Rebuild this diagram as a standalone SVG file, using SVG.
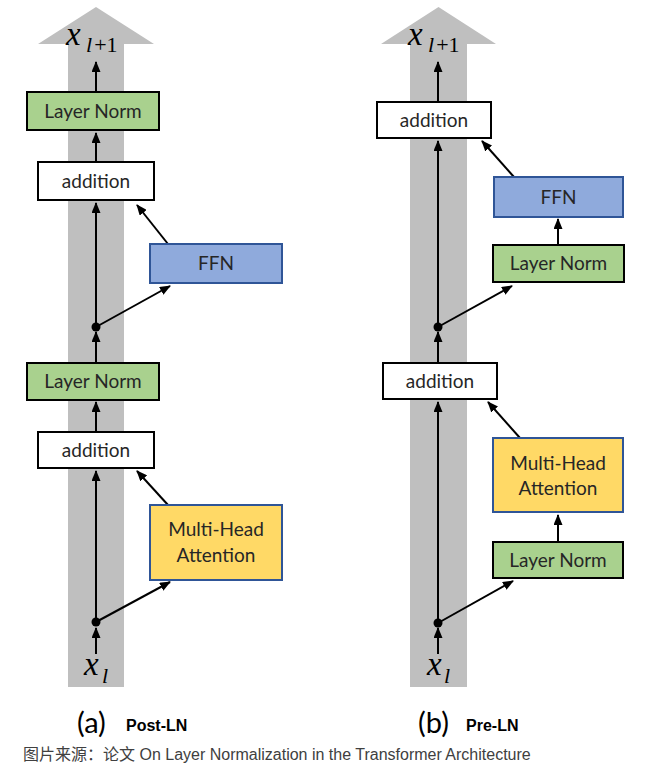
<svg xmlns="http://www.w3.org/2000/svg" width="646" height="771" viewBox="0 0 646 771">
<defs>
<marker id="ah" markerUnits="userSpaceOnUse" markerWidth="11" markerHeight="9" refX="10" refY="4.5" orient="auto">
<path d="M0,0 L11,4.5 L0,9 z" fill="#000"/>
</marker>
<style>
.col{fill:#BFBFBF}
.box{stroke-width:2}
.ln{fill:#A9D18E;stroke:#000}
.add{fill:#FFFFFF;stroke:#000}
.ffn{fill:#8FAADC;stroke:#2F5597}
.mha{fill:#FFD966;stroke:#2F5597}
.t{font-family:Lato,"Open Sans",sans-serif;font-size:19px;fill:#262626;text-anchor:middle}
.c{stroke:#000;stroke-width:2;fill:none;marker-end:url(#ah)}
.dot{fill:#000}
.mx{font-family:"Liberation Serif",serif;font-style:italic;font-size:33px;fill:#000}
.ml{font-family:"Liberation Serif",serif;font-style:italic;font-size:22px;fill:#000}
.ms{font-family:"Liberation Serif",serif;font-size:22px;fill:#000}
.cap{font-family:Lato,"Open Sans",sans-serif;font-size:29px;fill:#000}
.capb{font-family:"Liberation Sans",Arial,sans-serif;font-size:16px;font-weight:bold;fill:#000}
.src{font-family:"Liberation Sans",Arial,"Noto Sans CJK SC",sans-serif;font-size:16px;fill:#404040}
</style>
</defs>
<rect width="646" height="771" fill="#fff"/>
<g id="backbone-a">
<polygon class="col" points="38,44 96,7 154,44 124,44 124,687 68,687 68,44"/>
</g>
<g id="backbone-b">
<polygon class="col" points="381,44 438.5,7 496,44 467,44 467,687 410,687 410,44"/>
</g>

<g id="connectors">
<line class="c" x1="96" y1="654" x2="96" y2="628"/>
<line class="c" x1="96" y1="622" x2="96" y2="471"/>
<line class="c" x1="96" y1="622" x2="170" y2="582"/>
<line class="c" x1="168" y1="505" x2="137" y2="471"/>
<line class="c" x1="96" y1="432" x2="96" y2="402"/>
<line class="c" x1="96" y1="363" x2="96" y2="332"/>
<line class="c" x1="96" y1="327" x2="96" y2="203"/>
<line class="c" x1="96" y1="327" x2="170" y2="286"/>
<line class="c" x1="168" y1="244" x2="137" y2="205"/>
<line class="c" x1="96" y1="162" x2="96" y2="133"/>
<line class="c" x1="96" y1="92" x2="96" y2="62"/>
<line class="c" x1="438" y1="654" x2="438" y2="628"/>
<line class="c" x1="438" y1="623" x2="438" y2="402"/>
<line class="c" x1="438" y1="623" x2="513" y2="581"/>
<line class="c" x1="558" y1="542" x2="558" y2="515"/>
<line class="c" x1="520" y1="438" x2="488" y2="402"/>
<line class="c" x1="438" y1="363" x2="438" y2="332"/>
<line class="c" x1="438" y1="327" x2="438" y2="141"/>
<line class="c" x1="438" y1="327" x2="512" y2="286"/>
<line class="c" x1="558" y1="245" x2="558" y2="219"/>
<line class="c" x1="514" y1="177" x2="482" y2="141"/>
<line class="c" x1="438" y1="102" x2="438" y2="62"/>
<circle class="dot" cx="96" cy="622" r="4.5"/>
<circle class="dot" cx="96" cy="327" r="4.5"/>
<circle class="dot" cx="438" cy="623" r="4.5"/>
<circle class="dot" cx="438" cy="327" r="4.5"/>
</g>

<g id="a-ln-top"><rect class="box ln" x="27" y="92" width="132" height="38"/><text class="t" x="93" y="118">Layer Norm</text></g>
<g id="a-add-top"><rect class="box add" x="38" y="162" width="116" height="38"/><text class="t" x="96" y="188">addition</text></g>
<g id="a-ffn"><rect class="box ffn" x="150" y="244" width="132" height="39"/><text class="t" x="216" y="270">FFN</text></g>
<g id="a-ln-bot"><rect class="box ln" x="27" y="363" width="132" height="37"/><text class="t" x="93" y="388">Layer Norm</text></g>
<g id="a-add-bot"><rect class="box add" x="38" y="432" width="116" height="36"/><text class="t" x="96" y="457">addition</text></g>
<g id="a-mha"><rect class="box mha" x="150" y="505" width="132" height="75"/><text class="t" x="216" y="536">Multi-Head</text><text class="t" x="216" y="562">Attention</text></g>

<g id="b-add-top"><rect class="box add" x="377" y="102" width="114" height="36"/><text class="t" x="434" y="127">addition</text></g>
<g id="b-ffn"><rect class="box ffn" x="494" y="177" width="129" height="40"/><text class="t" x="558.5" y="204">FFN</text></g>
<g id="b-ln-top"><rect class="box ln" x="493" y="245" width="131" height="37"/><text class="t" x="558.5" y="270">Layer Norm</text></g>
<g id="b-add-bot"><rect class="box add" x="383" y="363" width="114" height="36"/><text class="t" x="440" y="388">addition</text></g>
<g id="b-mha"><rect class="box mha" x="493" y="438" width="130" height="74"/><text class="t" x="558" y="470">Multi-Head</text><text class="t" x="558" y="495">Attention</text></g>
<g id="b-ln-bot"><rect class="box ln" x="493" y="542" width="130" height="36"/><text class="t" x="558" y="567">Layer Norm</text></g>

<g id="labels">
<text class="mx" x="66" y="45">x</text><text x="86" y="52"><tspan class="ml">l</tspan><tspan class="ms" dx="2">+1</tspan></text>
<text class="mx" x="408" y="45">x</text><text x="428" y="52"><tspan class="ml">l</tspan><tspan class="ms" dx="2">+1</tspan></text>
<text class="mx" x="84" y="675">x</text><text class="ml" x="102" y="683">l</text>
<text class="mx" x="427" y="675">x</text><text class="ml" x="444" y="683">l</text>
<text class="cap" x="77" y="733">(a)</text><text class="capb" x="126" y="731">Post-LN</text>
<text class="cap" x="418" y="733">(b)</text><text class="capb" x="466" y="731">Pre-LN</text>
<text class="src" x="23" y="760">图片来源：论文 On Layer Normalization in the Transformer Architecture</text>
</g>
</svg>
